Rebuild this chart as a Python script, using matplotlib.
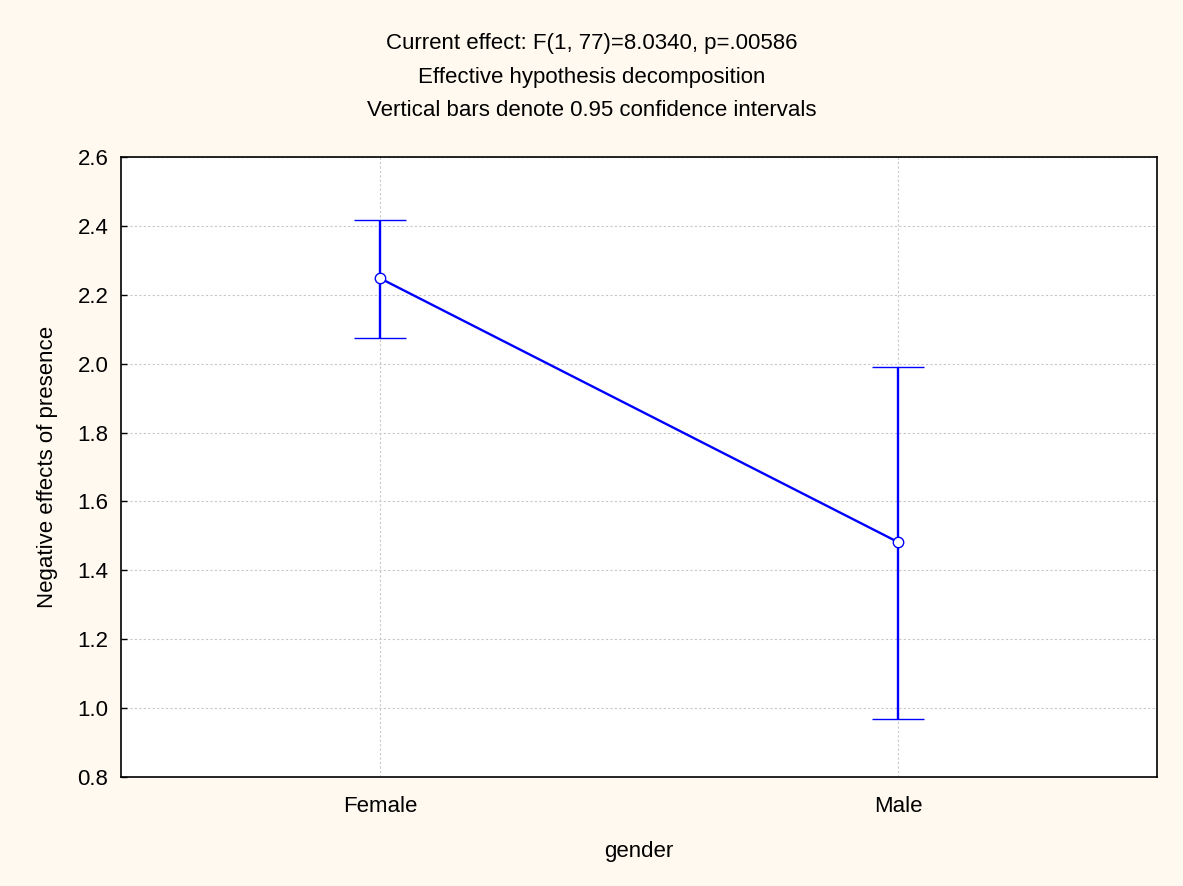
import matplotlib.pyplot as plt

# Means and 0.95 confidence limits per group
groups = ['Female', 'Male']
means = [2.248, 1.482]
ci_lower = [2.074, 0.968]
ci_upper = [2.418, 1.990]

plt.rcParams['font.family'] = ['Liberation Sans', 'DejaVu Sans']
fs = 16

fig = plt.figure(figsize=(11.83, 8.86), dpi=100, facecolor='#fff9ef')
ax = fig.add_axes([121 / 1183, 1 - 777 / 886, 1036 / 1183, 620 / 886])
ax.set_facecolor('white')

x = list(range(len(groups)))
err_lo = [m - lo for m, lo in zip(means, ci_lower)]
err_hi = [hi - m for m, hi in zip(means, ci_upper)]

ax.errorbar(x, means, yerr=[err_lo, err_hi], color='#0000ff', linewidth=1.7,
            elinewidth=1.7, capsize=19, capthick=1.7, marker='o', markersize=7.5,
            markerfacecolor='white', markeredgecolor='#0000ff', markeredgewidth=1,
            zorder=3)

ax.set_xlim(-0.5, 1.5)
ax.set_ylim(0.8, 2.6)
ax.set_xticks(x)
ax.set_xticklabels(groups)
ax.set_yticks([0.8, 1.0, 1.2, 1.4, 1.6, 1.8, 2.0, 2.2, 2.4, 2.6])
ax.yaxis.set_major_formatter(plt.FormatStrFormatter('%.1f'))
ax.tick_params(labelsize=fs, direction='in', length=4, width=1)
ax.tick_params(axis='y', pad=9)
ax.tick_params(axis='x', length=0, pad=14)
ax.grid(True, color='#c8c8c8', linestyle=(0, (2, 2)), linewidth=0.8)
for s in ax.spines.values():
    s.set_linewidth(1.2)

ax.set_xlabel('gender', fontsize=fs, labelpad=17)
ax.set_ylabel('Negative effects of presence', fontsize=fs, labelpad=14)

fig.text(0.5, 1 - 44 / 886, 'Current effect: F(1, 77)=8.0340, p=.00586',
         ha='center', va='center', fontsize=fs)
fig.text(0.5, 1 - 77 / 886, 'Effective hypothesis decomposition',
         ha='center', va='center', fontsize=fs)
fig.text(0.5, 1 - 110 / 886, 'Vertical bars denote 0.95 confidence intervals',
         ha='center', va='center', fontsize=fs)

fig.savefig('out.png', dpi=100, facecolor=fig.get_facecolor())
